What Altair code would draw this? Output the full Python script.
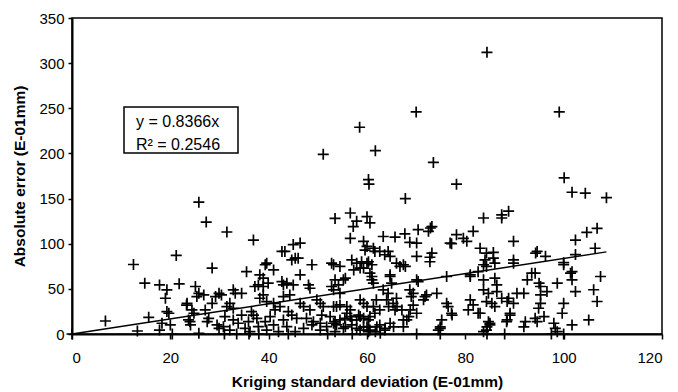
import altair as alt
import pandas as pd

# Kriging standard deviation (E-01mm)
x_vals = [
    84.4, 70.0, 99.1, 58.5, 61.7, 51.1, 73.5, 60.3, 60.4, 78.2, 100.1, 67.8, 101.7, 104.4, 108.7,
    25.8, 27.3, 31.5, 36.9, 53.5, 12.5, 21.2,
    56.6, 57.9, 57.2, 60.0, 60.6, 56.6, 59.3, 60.0, 59.6, 56.9, 58.9, 60.3, 52.8, 48.8, 39.6,
    43.3, 42.7, 45.0, 46.4, 45.4, 44.7, 46.0, 57.3, 59.3, 60.6, 61.0, 61.0,
    63.3, 65.7, 67.7, 68.7, 70.1, 70.4, 72.5, 73.2, 62.6, 63.6, 64.3, 64.7, 70.1, 72.8, 73.2, 66.0, 67.4,
    61.3, 61.6, 72.9,
    77.2, 78.2, 79.6, 80.3, 81.6, 83.0, 84.3, 85.7, 84.0, 85.7, 89.8, 89.8, 83.7, 87.4, 88.8, 87.4, 76.9,
    72.8, 66.7, 67.8, 64.7,
    94.6, 96.3, 100.0, 102.4, 104.7, 106.8, 106.4, 102.4, 94.3,
    61.0, 61.3, 64.7, 65.0, 70.4, 76.2, 81.0, 82.6, 83.7, 84.3, 86.0, 86.0, 86.4, 89.8,
    63.3, 64.3, 64.0, 61.9, 61.3, 62.6, 61.6, 60.6, 66.0, 65.3, 65.7, 67.4, 64.7, 62.6, 63.6,
    68.7, 69.4, 69.4, 69.0, 70.1, 71.5, 72.1, 74.2,
    76.2, 76.5, 77.2, 75.2, 74.9, 74.5,
    81.0, 80.6, 82.6, 81.6,
    83.7, 84.7, 84.3, 86.4, 87.4, 88.8, 85.4, 86.0, 89.8, 89.1, 88.4, 84.7, 85.0, 84.3, 90.5,
    70.1, 71.8, 68.8, 68.5, 68.1, 67.1, 66.1, 64.4, 67.4, 65.4, 63.7, 62.0, 60.6, 60.0,
    83.7, 81.0, 83.0, 85.0, 84.4, 88.5, 89.1, 83.7, 77.3, 74.9, 88.5,
    100.0, 101.7, 101.7, 107.5, 94.2, 92.6, 95.0, 95.3, 98.7, 91.9, 95.3, 96.6, 102.4, 106.1,
    95.3, 94.9, 100.0, 106.8, 99.7, 96.0, 94.2, 94.6, 105.1, 101.7, 92.2, 91.9, 98.0, 98.3, 98.7, 100.0,
    93.5, 101.4,
    53.5, 52.8, 53.2, 55.2, 55.6, 54.5, 53.8, 53.2, 55.9, 56.6, 54.5, 53.2, 55.6, 57.9, 58.6, 59.3,
    57.9, 60.3, 62.7, 61.7,
    53.2, 54.5, 54.2, 57.9, 58.6, 60.0,
    54.5, 55.9, 56.6, 58.6, 59.3, 60.0, 58.3, 59.3, 60.3,
    52.5, 53.5, 53.8, 49.8, 50.5, 51.1,
    35.5, 39.3, 38.2, 38.9, 37.9, 37.2, 38.9, 39.9, 42.7, 43.0, 43.7, 45.0, 46.4, 48.1, 48.4,
    41.0, 30.4, 32.8, 33.2, 34.5, 32.1, 31.5, 32.8, 36.5, 36.9, 38.2, 38.9, 39.6, 41.0, 41.3, 42.3,
    43.0, 44.3, 44.0, 44.7, 45.7, 46.4, 47.1, 48.4,
    30.8, 32.1, 33.8, 35.2, 36.2, 37.9, 39.6, 41.0, 42.0, 43.7, 45.4, 47.1, 48.8, 50.5, 51.8, 53.5,
    55.2, 56.9, 58.6, 60.3,
    31.1, 32.8, 34.5, 35.9, 37.6, 39.3, 40.3, 43.0, 47.7, 49.1, 50.8, 55.5, 56.9, 50.5,
    28.5, 14.8, 17.8, 19.3, 19.0, 21.8, 25.1, 25.8, 25.4, 26.8, 23.4, 24.4, 24.8, 19.7, 19.3, 15.6,
    6.8, 13.3, 18.3, 20.0, 17.8, 20.4, 23.7, 24.1, 25.8, 27.1, 27.8, 27.5, 28.5, 29.2, 29.9, 29.5, 29.9,
    23.3, 24.0,
    0.0, 31.0, 33.5, 36.0, 38.0, 44.0, 52.0, 57.0, 70.1, 74.9, 84.4, 88.0, 97.5,
]

# Absolute error (E-01mm)
y_vals = [
    312, 246, 246, 229, 203, 199, 190, 171, 166, 166, 173, 150, 157, 156, 151,
    146, 124, 113, 104, 128, 77, 87,
    134, 125, 119, 130, 123, 106, 102.6, 97, 93, 82, 80, 80, 78.5, 76.7, 78.5,
    91.5, 91.5, 99, 100.7, 84, 82, 84, 71, 73, 67.4, 60, 76.7,
    108, 107.4, 111, 101.5, 100.7, 115.5, 113.7, 119, 91.5, 87.8, 91.5, 86, 86, 85, 89.6, 78.5, 76.7,
    95, 91.5, 117.4,
    100, 110, 106, 102.6, 113.7, 95, 89.6, 90.4, 82, 84, 82, 102.6, 128.5, 132, 136, 128.5, 100.7,
    80, 74.8, 74.8, 63.7,
    91.5, 86, 79, 104, 112.6, 117, 95, 88, 89.6,
    63.7, 56.3, 65.5, 56.3, 58.1, 63.7, 65.5, 69, 76.7, 74.8, 78.5, 61.8, 54.4, 78.5,
    48.9, 45, 37.8, 37.8, 30.4, 26.7, 23, 19.3, 39.6, 34, 26.7, 15.6, 11.9, 10, 4.4,
    48.9, 45, 32, 41.5, 23, 37.8, 43.3, 45,
    34, 30.4, 23, 15.6, 8, 4.4,
    37.8, 26.7, 23, 32.2,
    48.9, 45, 35.9, 47, 39.6, 39.6, 34, 30.4, 34, 23, 13.7, 13.7, 10, 4.4, 45,
    60, 41.5, 26.7, 19.3, 15.6, 26.7, 30.4, 30.4, 8, 8, 6.3, 8, 4.4, 8,
    60, 63.7, 23, 11.9, 8, 15.6, 21, 2.6, 21, 6.3, 36,
    76.7, 69, 60, 63.7, 67.4, 60, 56.3, 52.6, 56.3, 45, 43.3, 47, 47, 49,
    34, 28.5, 34, 36, 23, 19.3, 17.4, 13.7, 15.6, 10, 13.7, 8, 11.9, 6.3, 2.6, 0,
    67.4, 67.4,
    60, 52.6, 48.9, 60, 61.8, 45, 30.4, 30.4, 23, 19.3, 15.6, 11.9, 8, 15.6, 19.3, 8,
    6.3, 2.6, 0.7, 2.6,
    76.7, 74.8, 54.4, 78.5, 73, 78.5,
    32.2, 30.4, 26.7, 37.8, 34, 30.4, 21, 17.4, 15.6,
    19.3, 13.7, 10, 37.8, 34, 30.4,
    69, 76.7, 65.5, 61.8, 54.4, 52.6, 52.6, 56.3, 58.1, 54.4, 56.3, 54.4, 65.5, 54.4, 50.7,
    71, 43.3, 48.9, 45, 45, 34, 30.4, 28.5, 24.8, 21, 39.6, 43.3, 35.9, 34, 26.7, 30.4,
    41.5, 43.3, 24.8, 21, 17.4, 34, 30.4, 26.7,
    8.1, 4.4, 11.9, 6.3, 2.6, 8.1, 4.4, 10, 2.6, 8.1, 2.6, 6.3, 10, 4.4, 8.1, 2.6,
    6.3, 10, 4.4, 8.1,
    19.3, 15.6, 21, 13.7, 17.4, 13.7, 19.3, 15.6, 17.4, 13.7, 21, 17.4, 15.6, 11.9,
    73, 56.3, 54.4, 48.9, 39.6, 55.6, 52.6, 45, 41.5, 43.3, 34, 26.7, 23, 23, 24.8, 18.5,
    14.4, 3.3, 11.9, 10, 4.4, 0, 15.6, 10, 0.7, 26.7, 17.4, 13.7, 34, 41.5, 45, 10, 6.3,
    32, 13.7,
    0, 0, 0, 0, 0, 0, 0, 0, 0, 0, 0, 0, 0,
]

slope = 0.8366
trend_x = [0, 108.7]
eq_line1 = "y = 0.8366x"
eq_line2 = "R² = 0.2546"

pts = pd.DataFrame({"x": x_vals, "y": y_vals})
trend = pd.DataFrame({"x": trend_x, "y": [slope * v for v in trend_x]})

FONT = "Liberation Sans"
xs = alt.Scale(domain=[0, 120], nice=False)
ys = alt.Scale(domain=[0, 350], nice=False)

x_axis = alt.Axis(values=[0, 20, 40, 60, 80, 100, 120], title="Kriging standard deviation (E-01mm)",
                  grid=False, domainColor="black", domainWidth=2, tickColor="black", tickWidth=1.5,
                  tickSize=5, labelFontSize=15, labelColor="black", labelPadding=11,
                  titleFontSize=15.5, titleFontWeight="bold", titleColor="black", titlePadding=9,
                  labelFont=FONT, titleFont=FONT)
y_axis = alt.Axis(values=[0, 50, 100, 150, 200, 250, 300, 350], title="Absolute error (E-01mm)",
                  grid=False, domainColor="black", domainWidth=2, tickColor="black", tickWidth=1.5,
                  tickSize=4, labelFontSize=15, labelColor="black", labelPadding=4,
                  titleFontSize=15.5, titleFontWeight="bold", titleColor="black", titlePadding=11,
                  labelFont=FONT, titleFont=FONT)

X = alt.X("x:Q", scale=xs, axis=x_axis)
Y = alt.Y("y:Q", scale=ys, axis=y_axis)

line = alt.Chart(trend).mark_line(color="black", strokeWidth=1.4).encode(x=X, y=Y)

points = alt.Chart(pts).mark_point(
    shape="M-1,0H1M0,-1V1", filled=False, stroke="black", strokeWidth=1.7, size=121, opacity=1
).encode(x=X, y=Y)

one = pd.DataFrame({"a": [0]})
box = alt.Chart(one).mark_rect(
    fill="white", stroke="black", strokeWidth=1.5
).encode(x=alt.value(52), x2=alt.value(166), y=alt.value(89), y2=alt.value(135))

t1 = alt.Chart(one).mark_text(
    align="left", baseline="middle", font=FONT, fontSize=16, color="black", text=eq_line1
).encode(x=alt.value(64), y=alt.value(104))
t2 = alt.Chart(one).mark_text(
    align="left", baseline="middle", font=FONT, fontSize=16, color="black", text=eq_line2
).encode(x=alt.value(64), y=alt.value(127))

chart = alt.layer(line, points, box, t1, t2).properties(
    width=590, height=316,
    autosize=alt.AutoSizeParams(type="none"),
    padding={"left": 72, "top": 18, "right": 16, "bottom": 58},
    background="white",
).configure_view(stroke="black", strokeWidth=1.5)

chart.save("out.html", embed_options={"renderer": "svg", "actions": False})
